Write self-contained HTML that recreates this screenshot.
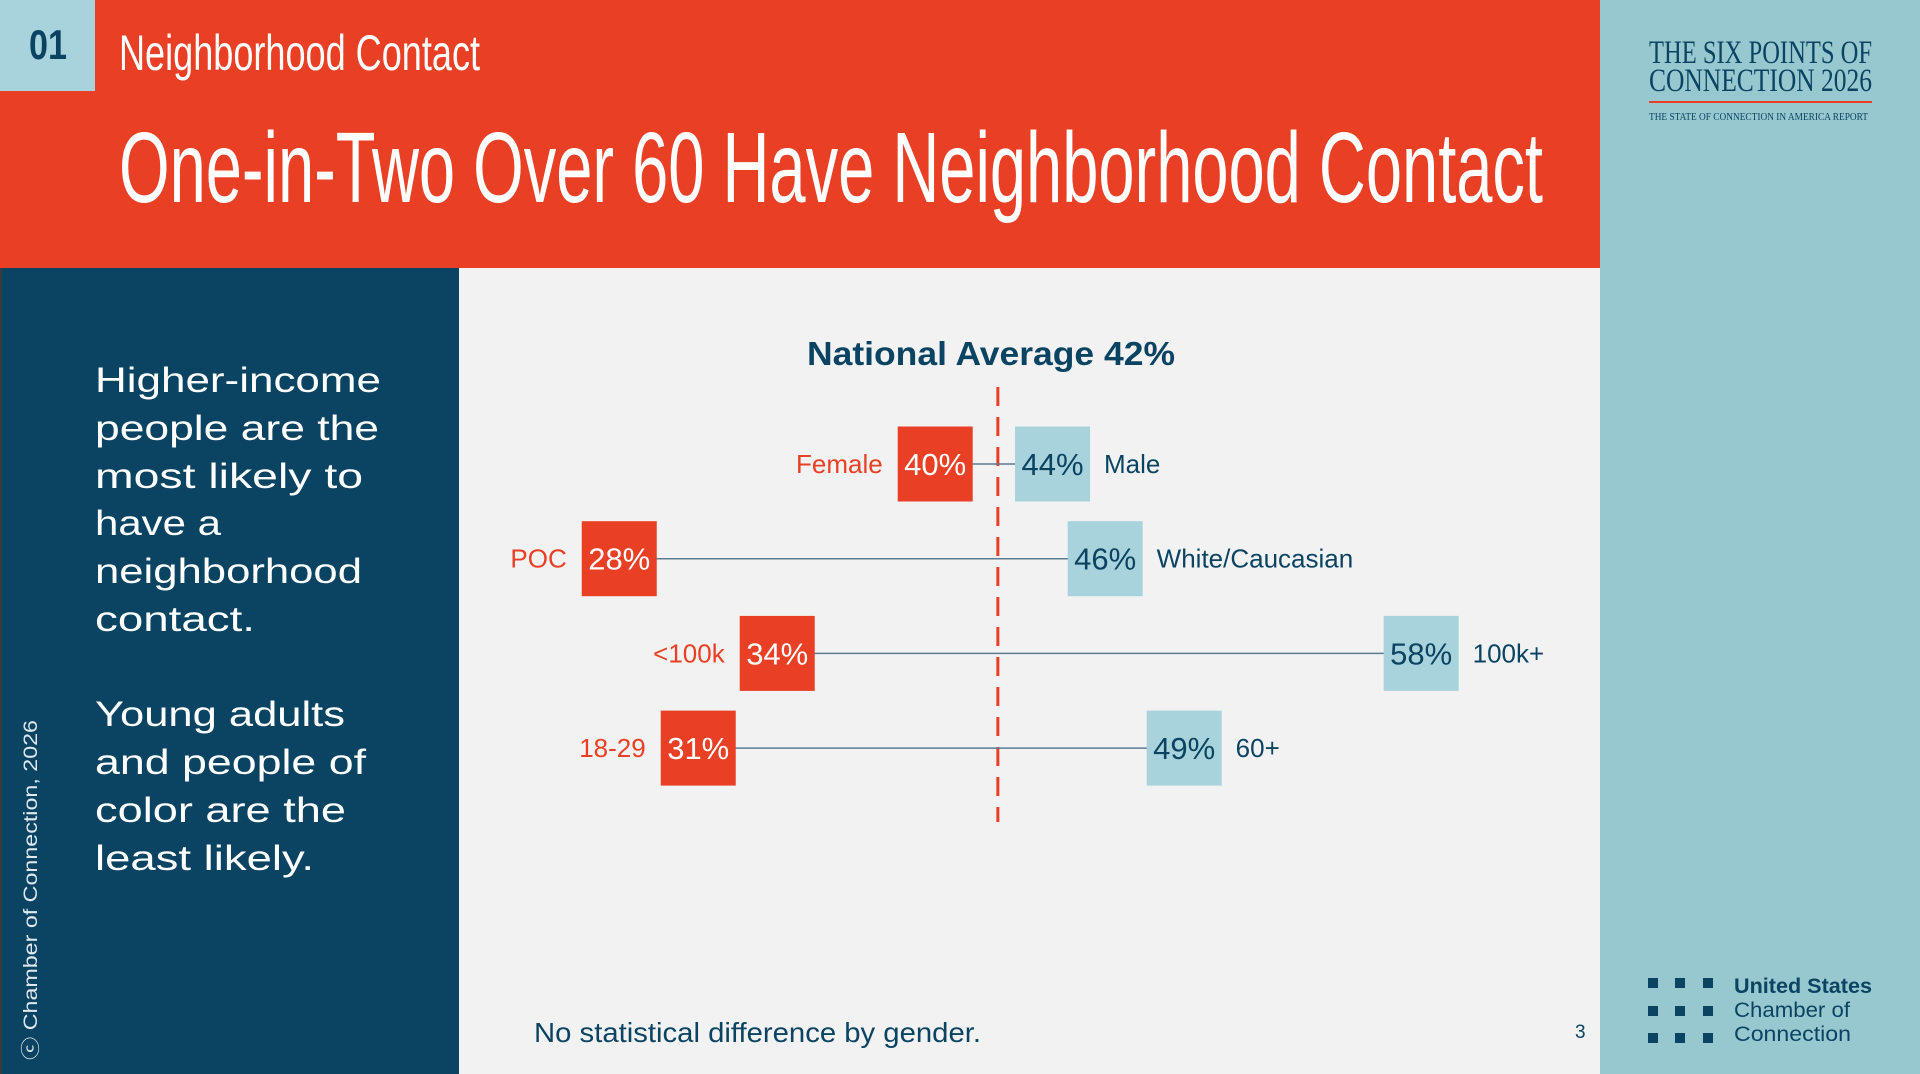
<!DOCTYPE html>
<html><head><meta charset="utf-8"><style>
html,body{margin:0;padding:0;width:1920px;height:1074px;overflow:hidden;background:#f2f2f2}
svg{display:block}
</style></head><body>
<svg id="chart" width="1920" height="1074" viewBox="0 0 1920 1074" xmlns="http://www.w3.org/2000/svg">
<rect x="0" y="0" width="1920" height="1074" fill="#f2f2f2"/>
<rect x="0" y="0" width="1600" height="268" fill="#e83f25"/>
<rect x="0" y="0" width="95" height="91" fill="#a8d3dc"/>
<text x="29" y="59" font-family="Liberation Sans Narrow, Liberation Sans, sans-serif" font-weight="bold" font-size="42" fill="#0b4462" textLength="38" lengthAdjust="spacingAndGlyphs">01</text>
<text x="119" y="70" font-family="Liberation Sans Narrow, Liberation Sans, sans-serif" font-size="50" fill="#ffffff" textLength="361" lengthAdjust="spacingAndGlyphs">Neighborhood Contact</text>
<text x="119" y="202" font-family="Liberation Sans Narrow, Liberation Sans, sans-serif" font-size="100" fill="#ffffff" textLength="1424" lengthAdjust="spacingAndGlyphs">One-in-Two Over 60 Have Neighborhood  Contact</text>
<rect x="1600" y="0" width="320" height="1074" fill="#97c8d0"/>
<text x="1649" y="63" font-family="Liberation Serif, serif" font-size="33" fill="#0b4462" textLength="223" lengthAdjust="spacingAndGlyphs">THE SIX POINTS OF</text>
<text x="1649" y="91" font-family="Liberation Serif, serif" font-size="33" fill="#0b4462" textLength="223" lengthAdjust="spacingAndGlyphs">CONNECTION 2026</text>
<rect x="1649" y="101" width="223" height="2" fill="#e83f25"/>
<text x="1649" y="120" font-family="Liberation Serif, serif" font-size="11" fill="#0b4462" textLength="219" lengthAdjust="spacingAndGlyphs">THE STATE OF CONNECTION IN AMERICA REPORT</text>
<g fill="#0b4462">
<rect x="1648" y="978" width="10" height="10"/><rect x="1675" y="978" width="10" height="10"/><rect x="1703" y="978" width="10" height="10"/>
<rect x="1648" y="1006" width="10" height="10"/><rect x="1675" y="1006" width="10" height="10"/><rect x="1703" y="1006" width="10" height="10"/>
<rect x="1648" y="1033" width="10" height="10"/><rect x="1675" y="1033" width="10" height="10"/><rect x="1703" y="1033" width="10" height="10"/>
</g>
<text x="1734" y="993" font-family="Liberation Sans, sans-serif" font-size="21" font-weight="bold" fill="#0b4462" textLength="138" lengthAdjust="spacingAndGlyphs">United States</text>
<text x="1734" y="1017" font-family="Liberation Sans, sans-serif" font-size="21" fill="#0b4462" textLength="116" lengthAdjust="spacingAndGlyphs">Chamber of</text>
<text x="1734" y="1041" font-family="Liberation Sans, sans-serif" font-size="21" fill="#0b4462" textLength="117" lengthAdjust="spacingAndGlyphs">Connection</text>
<rect x="0" y="268" width="459" height="806" fill="#0b4462"/>
<rect x="0" y="268" width="2" height="806" fill="#3a3a3a"/>
<g font-family="Liberation Sans, sans-serif" font-size="35" fill="#ffffff">
<text x="95" y="392" textLength="286" lengthAdjust="spacingAndGlyphs">Higher-income</text>
<text x="95" y="440" textLength="284" lengthAdjust="spacingAndGlyphs">people are the</text>
<text x="95" y="488" textLength="268" lengthAdjust="spacingAndGlyphs">most likely to</text>
<text x="95" y="535" textLength="126" lengthAdjust="spacingAndGlyphs">have a</text>
<text x="95" y="583" textLength="267" lengthAdjust="spacingAndGlyphs">neighborhood</text>
<text x="95" y="631" textLength="160" lengthAdjust="spacingAndGlyphs">contact.</text>
<text x="95" y="726" textLength="250" lengthAdjust="spacingAndGlyphs">Young adults</text>
<text x="95" y="774" textLength="271" lengthAdjust="spacingAndGlyphs">and people of</text>
<text x="95" y="822" textLength="251" lengthAdjust="spacingAndGlyphs">color are the</text>
<text x="95" y="870" textLength="219" lengthAdjust="spacingAndGlyphs">least likely.</text>
</g>
<text transform="translate(37,1060) rotate(-90)" font-family="Liberation Sans, sans-serif" font-size="19" fill="#dfe8ee" textLength="340" lengthAdjust="spacingAndGlyphs">ⓒ Chamber of Connection, 2026</text>
<text x="991" y="365" text-anchor="middle" font-family="Liberation Sans, sans-serif" font-weight="bold" font-size="33" fill="#0b4462" textLength="368" lengthAdjust="spacingAndGlyphs">National Average 42%</text>
<g id="marks"></g>
<text x="534" y="1042" font-family="Liberation Sans, sans-serif" font-size="28" fill="#0b4462" textLength="447" lengthAdjust="spacingAndGlyphs">No statistical difference by gender.</text>
<text x="1575" y="1038" font-family="Liberation Sans, sans-serif" font-size="19" fill="#0b4462">3</text>
</svg>
<script>
const lowLabels = ["Female", "POC", "<100k", "18-29"];
const lowValues = [40, 28, 34, 31];
const highLabels = ["Male", "White/Caucasian", "100k+", "60+"];
const highValues = [44, 46, 58, 49];
const nationalAverage = 42;

const NS = "http://www.w3.org/2000/svg";
const g = document.getElementById("marks");
const xScale = v => -112 + v * 26.33;
const yRow = i => 464 + i * 94.7;
const BOX = 75;
function mk(tag, attrs, parent) {
  const e = document.createElementNS(NS, tag);
  for (const k in attrs) e.setAttribute(k, attrs[k]);
  (parent || g).appendChild(e);
  return e;
}
const ax = xScale(nationalAverage) + 4;
const avgLine = mk("line", {x1: ax, x2: ax, y1: 387, y2: 822, stroke: "#e83f25", "stroke-width": 3, "stroke-dasharray": "19 11"});


const font = "Liberation Sans, sans-serif";
for (let i = 0; i < lowValues.length; i++) {
  const y = yRow(i);
  const lx = xScale(lowValues[i]) - 6;
  const hx = xScale(highValues[i]) + 6;
  const conn = mk("line", {x1: lx, x2: hx, y1: y, y2: y, stroke: "#5a7d93", "stroke-width": 1.5});
  
  
  const lb = mk("rect", {x: lx - BOX / 2, y: y - BOX / 2, width: BOX, height: BOX, fill: "#e83f25"});
  
  
  const lt = mk("text", {x: lx, y: y + 11, "text-anchor": "middle", "font-family": font, "font-size": 31, fill: "#ffffff"});
  lt.textContent = lowValues[i] + "%";
  
  
  const ll = mk("text", {x: lx - BOX / 2 - 15, y: y + 9, "text-anchor": "end", "font-family": font, "font-size": 26, fill: "#e83f25"});
  ll.textContent = lowLabels[i];
  
  
  const hb = mk("rect", {x: hx - BOX / 2, y: y - BOX / 2, width: BOX, height: BOX, fill: "#a8d3dc"});
  
  
  const ht = mk("text", {x: hx, y: y + 11, "text-anchor": "middle", "font-family": font, "font-size": 31, fill: "#0b4462"});
  ht.textContent = highValues[i] + "%";
  
  
  const hl = mk("text", {x: hx + BOX / 2 + 14, y: y + 9, "font-family": font, "font-size": 26, fill: "#0b4462"});
  hl.textContent = highLabels[i];
  
  
}
</script>
</body></html>
